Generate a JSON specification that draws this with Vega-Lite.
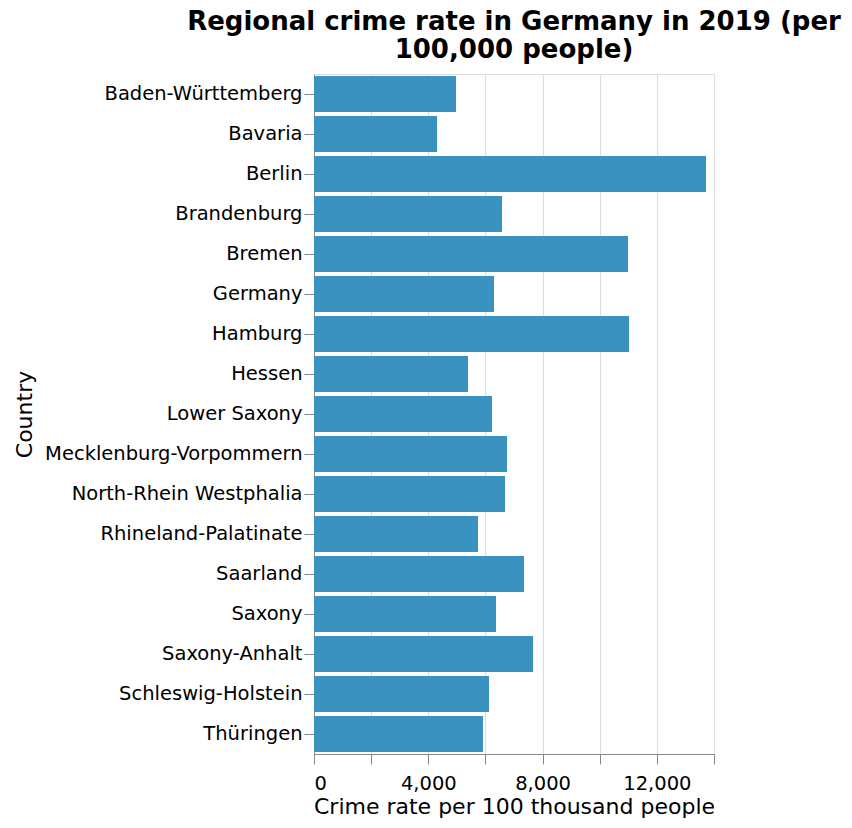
{
  "$schema": "https://vega.github.io/schema/vega-lite/v6.json",
  "title": {
    "text": ["Regional crime rate in Germany in 2019 (per", "100,000 people)"],
    "fontSize": 26,
    "font": "DejaVu Sans",
    "fontWeight": "bold",
    "lineHeight": 28,
    "offset": 11
  },
  "padding": {"top": 9, "left": 13, "right": 5, "bottom": 5},
  "width": 400,
  "height": 680,
  "data": {
    "values": [
      {"Country": "Baden-Württemberg", "Rate": 4970},
      {"Country": "Bavaria", "Rate": 4305},
      {"Country": "Berlin", "Rate": 13720},
      {"Country": "Brandenburg", "Rate": 6580},
      {"Country": "Bremen", "Rate": 10990},
      {"Country": "Germany", "Rate": 6300},
      {"Country": "Hamburg", "Rate": 11025},
      {"Country": "Hessen", "Rate": 5390},
      {"Country": "Lower Saxony", "Rate": 6230},
      {"Country": "Mecklenburg-Vorpommern", "Rate": 6755},
      {"Country": "North-Rhein Westphalia", "Rate": 6685},
      {"Country": "Rhineland-Palatinate", "Rate": 5740},
      {"Country": "Saarland", "Rate": 7350},
      {"Country": "Saxony", "Rate": 6370},
      {"Country": "Saxony-Anhalt", "Rate": 7665},
      {"Country": "Schleswig-Holstein", "Rate": 6125},
      {"Country": "Thüringen", "Rate": 5915}
    ]
  },
  "mark": {"type": "bar", "color": "#3a92c0"},
  "encoding": {
    "y": {
      "field": "Country",
      "type": "nominal",
      "title": "Country",
      "axis": {"labelFontSize": 19.5, "titleFontSize": 22, "labelFont": "DejaVu Sans", "titleFont": "DejaVu Sans", "titleFontWeight": "normal", "labelLimit": 400, "tickSize": 10, "titlePadding": 78}
    },
    "x": {
      "field": "Rate",
      "type": "quantitative",
      "title": "Crime rate per 100 thousand people",
      "scale": {"domain": [0, 14000]},
      "axis": {"labelFontSize": 19.5, "titleFontSize": 22, "labelFont": "DejaVu Sans", "titleFont": "DejaVu Sans", "titleFontWeight": "normal", "tickCount": 7, "tickSize": 10, "labelPadding": 10}
    }
  }
}
